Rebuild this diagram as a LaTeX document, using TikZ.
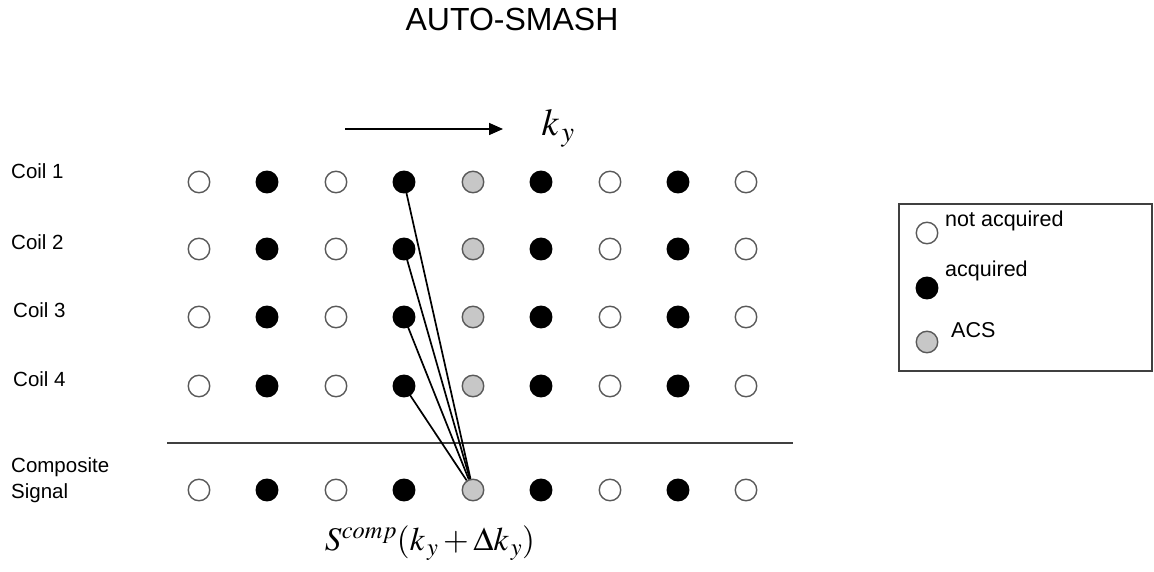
\documentclass[tikz,border=0pt]{standalone}
\usepackage{mathptmx}
\usepackage{fontspec}
\setmainfont{Liberation Sans}
\usetikzlibrary{arrows.meta}
\begin{document}
\begin{tikzpicture}[x=1pt,y=-1pt,
  dot/.style={circle,minimum size=21.5pt,inner sep=0pt,line width=1.4pt,draw=black!65},
  notacq/.style={dot,fill=white},
  acq/.style={dot,fill=black,draw=black},
  acs/.style={dot,fill=black!22},
  lbl/.style={font=\fontsize{20.5}{24}\selectfont,anchor=west,inner sep=0pt},
  leg/.style={font=\fontsize{21.5}{24}\selectfont,anchor=west,inner sep=0pt}]
\useasboundingbox (0,0) rectangle (1154,572);
\node[font=\fontsize{32}{36}\selectfont] (title) at (512,19) {AUTO-SMASH};
% row labels
\node[lbl] (l1) at (11,171) {Coil 1};
\node[lbl] (l2) at (11,242) {Coil 2};
\node[lbl] (l3) at (13,310) {Coil 3};
\node[lbl] (l4) at (13,379) {Coil 4};
\node[lbl,align=left] (l5) at (11,480) {Composite\\[2pt]Signal};
% dots
\foreach \r/\y in {1/182,2/249,3/317,4/386,5/490}{
  \foreach \c/\x/\s in {1/199/notacq,2/267/acq,3/336/notacq,4/404/acq,5/473/acs,6/541/acq,7/610/notacq,8/678/acq,9/746/notacq}{
    \node[\s] (d\r-\c) at (\x,\y) {};
  }
}
% separator
\coordinate (sepL) at (167,443);
\coordinate (sepR) at (793,443);
\draw[line width=1.6pt,black!75] (sepL) -- (sepR);
% arrow
\coordinate (arA) at (345,129);
\coordinate (arB) at (503,129);
\draw[line width=1.6pt,-{Triangle[length=14pt,width=12pt]}] (arA) -- (arB);
\node[font=\fontsize{38}{42}\selectfont] (ky) at (558,128) {$k_{\,y}$};
% lines
\foreach \r in {1,2,3,4}{
  \draw[line width=1.7pt] (d\r-4.center) -- (d5-5);
}
\node[font=\fontsize{33}{36}\selectfont] (scomp) at (430,543) {$S^{comp}(k_{\,y}+\Delta k_{\,y})$};
% legend
\node[draw=black!75,line width=1.5pt,minimum width=253pt,minimum height=167pt,inner sep=0pt] (legbox) at (1025.5,287.5) {};
\node[notacq] (g1) at (927,233) {};
\node[acq] (g2) at (927,288) {};
\node[acs] (g3) at (927,342) {};
\node[leg] (t1) at (945,221) {not acquired};
\node[leg] (t2) at (945,271) {acquired};
\node[leg] (t3) at (951,330) {ACS};
\end{tikzpicture}
\end{document}
